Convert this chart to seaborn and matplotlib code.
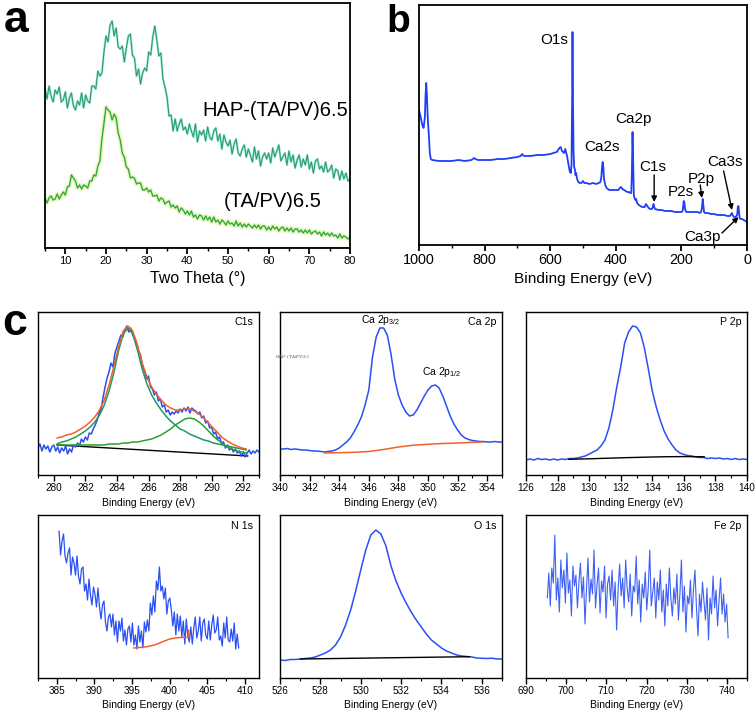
import numpy as np
import matplotlib
matplotlib.use("Agg")
import matplotlib.pyplot as plt
from matplotlib.ticker import MultipleLocator
import seaborn as sns

sns.set_style("ticks")
plt.rcParams['font.family'] = ['Liberation Sans', 'DejaVu Sans']
plt.rcParams['mathtext.fontset'] = 'custom'
plt.rcParams['mathtext.rm'] = 'Liberation Sans'
plt.rcParams['mathtext.it'] = 'Liberation Sans'
plt.rcParams['text.color'] = 'black'
plt.rcParams['axes.labelcolor'] = 'black'
plt.rcParams['xtick.color'] = 'black'
plt.rcParams['xtick.labelcolor'] = 'black'

# ---------------- data ----------------
# panel a (XRD), evenly spaced 5..80 deg
xrd_hap = [160, 149, 162, 152, 146, 158, 154, 161, 146, 148,
           156, 140, 150, 155, 142, 138, 147, 143, 155, 140,
           153, 147, 145, 162, 162, 159, 177, 172, 175, 196,
           212, 206, 223, 227, 212, 220, 201, 199, 202, 186,
           200, 212, 214, 193, 190, 172, 179, 164, 175, 180,
           177, 196, 193, 211, 222, 208, 192, 195, 169, 161,
           151, 132, 133, 117, 129, 117, 124, 129, 118, 121,
           114, 124, 117, 111, 124, 106, 117, 113, 118, 107,
           121, 111, 108, 117, 120, 107, 114, 99, 113, 106,
           102, 108, 94, 104, 109, 95, 92, 99, 103, 91,
           99, 93, 86, 101, 89, 97, 82, 91, 95, 89,
           95, 85, 100, 91, 97, 103, 87, 91, 95, 83,
           97, 86, 93, 80, 88, 93, 81, 89, 83, 93,
           79, 86, 75, 87, 89, 79, 82, 76, 86, 76,
           78, 83, 70, 79, 77, 68, 77, 69, 75, 67, 69]
xrd_tapv = [50, 45, 50, 52, 48, 49, 54, 49, 53, 56,
            53, 61, 62, 73, 70, 67, 60, 63, 59, 63,
            62, 60, 67, 67, 73, 72, 82, 87, 109, 125,
            141, 138, 136, 128, 134, 130, 115, 108, 95, 91,
            81, 79, 70, 71, 70, 64, 65, 65, 58, 58,
            60, 56, 58, 52, 52, 53, 47, 50, 49, 44,
            46, 47, 41, 43, 40, 42, 36, 40, 38, 34,
            37, 33, 37, 31, 33, 29, 33, 32, 28, 32,
            28, 31, 26, 31, 26, 28, 24, 28, 26, 23,
            27, 24, 25, 22, 27, 22, 25, 21, 24, 21,
            24, 22, 20, 23, 20, 23, 19, 22, 22, 18,
            21, 18, 22, 19, 21, 17, 20, 21, 17, 20,
            17, 20, 16, 19, 19, 16, 18, 15, 18, 15,
            18, 14, 16, 17, 14, 16, 12, 16, 13, 15,
            12, 15, 12, 13, 10, 14, 10, 12, 11, 9, 11]

# panel b (XPS survey): (binding energy, intensity)
survey_points = [
    (1000, 135), (995, 128), (990, 120), (986, 117), (982, 128), (980, 150), (978, 162), (976, 150),
    (973, 125), (970, 110), (967, 92), (964, 86), (960, 85), (940, 84), (920, 84), (900, 84), (880, 85),
    (860, 84), (840, 85), (832, 87), (828, 86), (820, 85), (800, 85), (780, 85), (760, 86), (740, 86),
    (720, 87), (700, 88), (690, 89), (686, 91), (680, 89), (660, 89), (640, 90), (620, 90), (600, 91),
    (590, 92), (580, 93), (572, 97), (568, 98), (564, 94), (558, 92), (554, 96), (548, 88), (544, 80),
    (540, 73), (537, 72), (535, 80), (533, 150), (532, 213), (531, 160), (529, 95), (527, 78), (525, 76),
    (523, 70), (521, 72), (518, 66), (514, 63), (510, 62), (505, 62), (500, 64), (496, 62), (490, 62),
    (480, 61), (470, 62), (460, 61), (452, 62), (447, 63), (444, 68), (442, 78), (440, 83), (438, 78),
    (436, 66), (432, 60), (428, 57), (420, 55), (410, 55), (400, 55), (392, 55), (388, 57), (384, 58),
    (380, 56), (375, 55), (370, 54), (365, 53), (360, 53), (356, 52), (353, 52), (351, 70), (349, 113),
    (347, 80), (345, 50), (343, 47), (340, 45), (338, 46), (335, 42), (330, 40), (320, 38), (312, 38),
    (308, 41), (304, 39), (300, 37), (295, 36), (290, 36), (287, 38), (285, 41), (283, 38), (280, 36),
    (270, 35), (260, 35), (250, 34), (240, 34), (230, 34), (220, 33), (210, 33), (200, 33), (196, 34),
    (193, 44), (191, 43), (189, 36), (185, 33), (180, 33), (170, 33), (160, 33), (150, 33), (145, 32),
    (140, 33), (137, 38), (135, 46), (133, 40), (131, 33), (128, 32), (120, 32), (110, 31), (100, 31),
    (90, 30), (80, 30), (70, 30), (60, 29), (52, 29), (48, 31), (46, 32), (44, 30), (40, 28), (35, 28),
    (30, 30), (28, 38), (26, 39), (24, 32), (22, 27), (20, 26), (15, 26), (10, 25), (5, 24), (0, 23)]
survey_labels = ["O1s", "Ca2s", "Ca2p", "C1s", "P2s", "P2p", "Ca3s", "Ca3p"]

# panel c: C 1s (279..293)
c1s_data = [27, 31, 24, 30, 26, 29, 23, 28, 30, 24, 28, 22, 27, 24, 29, 21, 26, 23, 30, 28,
            32, 29, 36, 33, 38, 35, 42, 41, 46, 50, 55, 62, 66, 78, 88, 97, 103, 112, 108, 122,
            128, 134, 140, 138, 145, 149, 143, 147, 140, 137, 131, 124, 120, 108, 104, 96, 99, 88, 86, 80,
            83, 74, 76, 68, 70, 63, 65, 60, 63, 61, 64, 62, 66, 63, 67, 64, 68, 62, 67, 65,
            64, 61, 63, 57, 59, 52, 54, 47, 48, 41, 43, 36, 38, 32, 33, 27, 30, 25, 27, 23,
            26, 22, 24, 19, 23, 18, 22, 25, 21, 24, 22, 25, 23]
# fits, 280.2..292.2
c1s_peak1 = [31, 33, 34, 36, 38, 41, 44, 48, 53, 60, 70, 84, 102, 124, 141, 147, 141, 125, 106, 91,
             80, 72, 65, 59, 54, 50, 46, 44, 41, 39, 37, 35, 34, 32, 31, 30, 29, 28, 27, 26, 25]
c1s_peak2 = [30, 30, 30, 30, 30, 30, 30, 30, 30, 30, 30, 31, 31, 31, 32, 32, 33, 33, 34, 35,
             36, 38, 40, 43, 46, 50, 53, 56, 57, 56, 53, 49, 44, 39, 35, 31, 28, 26, 24, 23, 22]
c1s_envelope = [37, 38, 40, 41, 43, 46, 49, 53, 58, 65, 75, 90, 108, 128, 144, 149, 144, 130, 112, 98,
                88, 81, 75, 70, 67, 65, 65, 66, 66, 64, 61, 57, 52, 47, 42, 37, 34, 31, 29, 27, 26]
c1s_bg_x = [280.2, 292.3]
c1s_bg_y = [30, 19]

# Ca 2p (340..355)
ca2p_data = [26, 26, 26.5, 25.5, 26, 25.5, 25, 25, 24.5, 24, 24, 23.5, 23, 23.5, 24, 25, 27, 30, 33, 37,
             43, 50, 58, 70, 85, 118, 138, 147, 147, 140, 121, 96, 80, 70, 63, 59, 60, 65, 72, 79,
             85, 89, 90, 87, 79, 69, 59, 51, 45, 40, 37, 35.5, 34.5, 34, 33.5, 33.5, 33, 33, 33.5, 33, 33]
ca2p_bg_x = [343, 344, 345, 346, 347, 348, 349, 350, 351, 352, 353, 353.7]
ca2p_bg_y = [22, 22.3, 22.7, 23.5, 25.5, 28, 29.8, 30.7, 31.5, 32, 32.7, 33]

# P 2p (126..140)
p2p_data = [15, 16, 15, 16.5, 15.5, 16, 15, 16, 15, 16, 15.5, 16.5, 16.5, 17, 18, 19, 21, 23, 25, 29,
            35, 47, 65, 88, 108, 132, 143, 149, 148, 142, 127, 106, 84, 68, 55, 44, 36, 30, 25, 22,
            20.5, 19.5, 19, 18, 17.5, 17.5, 16.5, 17, 16.5, 17, 16, 16.5, 15.5, 16.5, 15.5, 16, 15.5]
p2p_bg_x = [128.7, 130, 131, 132, 133, 134, 135, 136, 137.3]
p2p_bg_y = [15.7, 16.2, 16.7, 17.2, 17.6, 18, 18.3, 18.4, 18.3]

# N 1s (385.3..409.2)
n1s_data = [147, 123, 137, 144, 122, 115, 125, 130, 103, 121,
            115, 103, 122, 102, 94, 109, 111, 87, 94, 78,
            99, 83, 73, 91, 84, 71, 90, 71, 59, 73,
            77, 56, 47, 61, 64, 51, 64, 43, 57, 36,
            57, 47, 60, 37, 48, 33, 49, 52, 36, 55,
            33, 43, 29, 52, 36, 47, 30, 56, 46, 58,
            47, 75, 63, 82, 66, 97, 88, 111, 87, 92,
            79, 90, 64, 77, 80, 68, 52, 66, 43, 64,
            47, 62, 41, 57, 34, 59, 42, 36, 51, 34,
            50, 61, 40, 47, 61, 37, 55, 59, 43, 39,
            57, 38, 53, 63, 45, 48, 61, 38, 42, 32,
            55, 40, 61, 38, 36, 49, 37, 55, 29, 44, 30]
n1s_bg_x = [395.2, 396, 397, 398, 399, 400, 401, 402, 402.4, 402.5, 402.55]
n1s_bg_y = [30, 30.5, 31.3, 33, 36, 39, 40.3, 40.7, 41, 41, 48]

# O 1s (526..537)
o1s_data = [18, 17.5, 18.5, 18.5, 19, 19.5, 20, 21, 23, 25, 28, 33, 41, 53, 68, 87, 108, 128, 143, 148,
            144, 132, 112, 97, 85, 75, 66, 58, 51, 44, 38, 34, 30, 27, 25, 23, 22, 21.5, 21, 20,
            19.7, 19.5, 19.8, 19, 19]
o1s_bg_x = [527, 535.4]
o1s_bg_y = [19, 21.3]

# Fe 2p (695.3..740.3)
fe2p_data = [80, 105, 72, 110, 95, 143, 78, 100, 66, 118, 90, 108, 75, 125, 85, 98, 62, 112, 92, 103,
             70, 96, 115, 80, 101, 54, 88, 120, 76, 99, 84, 128, 70, 93, 110, 65, 97, 86, 112, 60,
             94, 102, 78, 108, 72, 96, 48, 88, 114, 82, 100, 70, 118, 90, 76, 104, 62, 92, 86, 122,
             74, 98, 56, 94, 80, 106, 68, 90, 128, 72, 86, 100, 60, 96, 78, 108, 66, 88, 52, 94,
             72, 110, 80, 62, 90, 74, 104, 58, 84, 118, 66, 92, 46, 82, 74, 98, 60, 88, 108, 70,
             42, 84, 66, 96, 76, 58, 90, 38, 80, 64, 102, 70, 88, 52, 78, 100, 64, 84, 56, 74, 40]

# ---------------- figure ----------------
W, H = 756, 713
fig = plt.figure(figsize=(W / 100, H / 100), dpi=100)


def make_ax(x0, y0, x1, y1):
    return fig.add_axes([x0 / W, 1 - y1 / H, (x1 - x0) / W, (y1 - y0) / H])


def line(ax, x, y, **kw):
    sns.lineplot(x=np.asarray(x, float), y=np.asarray(y, float), ax=ax, estimator=None,
                 sort=False, legend=False, **kw)


def style(ax, xlim, ylim, major, minor, tsize, lsize, spine_w=1.0, label="Binding Energy (eV)"):
    ax.set_xlim(*xlim)
    ax.set_ylim(*ylim)
    ax.set_yticks([])
    ax.xaxis.set_major_locator(MultipleLocator(major))
    ax.xaxis.set_minor_locator(MultipleLocator(minor))
    ax.tick_params(axis='x', which='major', direction='out', length=4, width=spine_w,
                   labelsize=tsize, pad=2, color='black', labelcolor='black')
    ax.tick_params(axis='x', which='minor', direction='out', length=2.5, width=spine_w * 0.8)
    for s in ax.spines.values():
        s.set_visible(True)
        s.set_linewidth(spine_w)
        s.set_color('black')
    ax.set_xlabel(label, fontsize=lsize, labelpad=3, color='black')
    ax.set_ylabel("")


# ---- panel a ----
axa = make_ax(45, 3, 350, 248)
xa = np.linspace(5, 80, len(xrd_hap))
xb = np.linspace(5, 80, len(xrd_tapv))
line(axa, xb, xrd_tapv, color='#f2f6c6', lw=3.5, alpha=0.9)
line(axa, xa, xrd_hap, color='#8fe6c4', lw=1.6)
line(axa, xa, xrd_hap, color='#2b9474', lw=0.7)
line(axa, xb, xrd_tapv, color='#86db80', lw=1.3)
line(axa, xb, xrd_tapv, color='#1f9a2a', lw=0.6)
axa.plot([5, 80], [0.8, 0.8], color='#e8602a', lw=0.8)
style(axa, (5, 80), (0, 245), 10, 5, 8, 11.4, spine_w=1.3, label="Two Theta (°)")
axa.text(0.755, 0.56, "HAP-(TA/PV)6.5", transform=axa.transAxes, fontsize=14.5, ha='center', va='center')
axa.text(0.745, 0.19, "(TA/PV)6.5", transform=axa.transAxes, fontsize=14.5, ha='center', va='center')
fig.text(4 / W, 1 - 20 / H, "a", fontsize=32, fontweight='bold', va='center', ha='left')

# ---- panel b ----
axb = make_ax(419, 5, 747, 245)
be = [p[0] for p in survey_points]
it = [p[1] for p in survey_points]
line(axb, be, it, color='#1f3ef5', lw=1.3)
style(axb, (1000, 0), (0, 240), 200, 100, 10.4, 11.1, spine_w=1.3)
lab_pos = {"O1s": (589, 205), "Ca2s": (442, 98), "Ca2p": (347, 126), "C1s": (286, 78),
           "P2s": (201, 53), "P2p": (138, 66), "Ca3s": (68, 83), "Ca3p": (137, 8)}
for lab in survey_labels:
    axb.text(*lab_pos[lab], lab, fontsize=11, ha='center', va='center')
arrow = dict(arrowstyle='-|>', color='black', lw=1.0, mutation_scale=8, shrinkA=0, shrinkB=0)
axb.annotate('', xy=(283, 43), xytext=(283, 70), arrowprops=arrow)
axb.annotate('', xy=(137.5, 47), xytext=(142.6, 60), arrowprops=arrow)
axb.annotate('', xy=(45.8, 35), xytext=(71.3, 74), arrowprops=arrow)
axb.annotate('', xy=(25.5, 28), xytext=(76.4, 12), arrowprops=arrow)
fig.text(386 / W, 1 - 22 / H, "b", fontsize=28, fontweight='bold', va='center', ha='left')

# ---- panel c ----
blue = '#2a4ff5'
orange = '#f0602a'
cols = [(38, 259), (280, 502), (526, 747)]
rows = [(312, 475), (515, 678)]
tsz, lsz, nsz = 7.2, 7.5, 7.7


def cax(r, c):
    return make_ax(cols[c][0], rows[r][0], cols[c][1], rows[r][1])


# C 1s
ax = cax(0, 0)
xg = np.linspace(279, 293, len(c1s_data))
xf = np.linspace(280.2, 292.2, len(c1s_peak1))
line(ax, c1s_bg_x, c1s_bg_y, color='black', lw=1.0)
line(ax, xg, c1s_data, color=blue, lw=1.1)
line(ax, xf, c1s_peak1, color='#1e9a60', lw=1.1)
line(ax, xf, c1s_peak2, color='#2ca02c', lw=1.1)
line(ax, xf, c1s_envelope, color=orange, lw=1.1)
style(ax, (279, 293), (0, 163), 2, 1, tsz, lsz)
ax.text(0.975, 0.94, "C1s", transform=ax.transAxes, fontsize=nsz, ha='right', va='center')

# Ca 2p
ax = cax(0, 1)
line(ax, np.linspace(340, 355, len(ca2p_data)), ca2p_data, color=blue, lw=1.1)
line(ax, ca2p_bg_x, ca2p_bg_y, color=orange, lw=1.1)
style(ax, (340, 355), (0, 163), 2, 1, tsz, lsz)
ax.text(0.975, 0.94, "Ca 2p", transform=ax.transAxes, fontsize=nsz, ha='right', va='center')
ax.text(346.8, 155, r"Ca 2p$_{3/2}$", fontsize=7.5, ha='center', va='center')
ax.text(349.6, 103, r"Ca 2p$_{1/2}$", fontsize=7.5, ha='left', va='center')
fig.text(275 / W, 1 - 357 / H, r"HAP-(TA/PV)$_{6.5}$", fontsize=3.2, family='DejaVu Serif',
         color='#555555', va='center', ha='left')

# P 2p
ax = cax(0, 2)
line(ax, np.linspace(126, 140, len(p2p_data)), p2p_data, color=blue, lw=1.1)
line(ax, p2p_bg_x, p2p_bg_y, color='black', lw=1.0)
style(ax, (126, 140), (0, 163), 2, 1, tsz, lsz)
ax.text(0.975, 0.94, "P 2p", transform=ax.transAxes, fontsize=nsz, ha='right', va='center')

# N 1s
ax = cax(1, 0)
line(ax, np.linspace(385.3, 409.2, len(n1s_data)), n1s_data, color=blue, lw=0.9)
line(ax, n1s_bg_x, n1s_bg_y, color=orange, lw=1.1)
style(ax, (382.5, 411.9), (0, 163), 5, 2.5, tsz, lsz)
ax.text(0.975, 0.93, "N 1s", transform=ax.transAxes, fontsize=nsz, ha='right', va='center')

# O 1s
ax = cax(1, 1)
line(ax, np.linspace(526, 537, len(o1s_data)), o1s_data, color=blue, lw=1.1)
line(ax, o1s_bg_x, o1s_bg_y, color='black', lw=1.0)
style(ax, (526, 537), (0, 163), 2, 1, tsz, lsz)
ax.text(0.975, 0.93, "O 1s", transform=ax.transAxes, fontsize=nsz, ha='right', va='center')

# Fe 2p
ax = cax(1, 2)
line(ax, np.linspace(695.3, 740.3, len(fe2p_data)), fe2p_data, color=blue, lw=0.8, alpha=0.9)
style(ax, (690, 745), (0, 163), 10, 5, tsz, lsz)
ax.text(0.975, 0.93, "Fe 2p", transform=ax.transAxes, fontsize=nsz, ha='right', va='center')

fig.text(2 / W, 1 - 323 / H, "c", fontsize=32, fontweight='bold', va='center', ha='left')

fig.savefig("out.png", dpi=100)
